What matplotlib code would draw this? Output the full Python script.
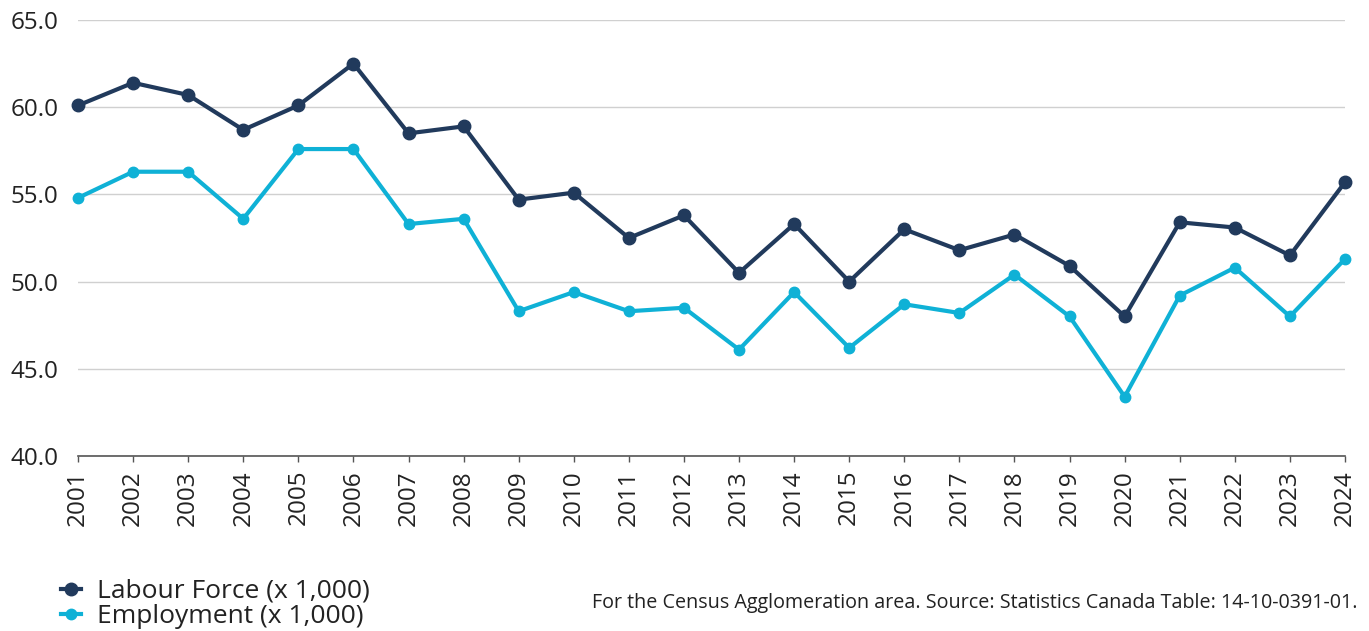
import matplotlib
matplotlib.use('Agg')
import matplotlib.pyplot as plt

YEARS = list(range(2001, 2025))
LABOUR_FORCE = [60.1, 61.4, 60.7, 58.7, 60.1, 62.5, 58.5, 58.9, 54.7, 55.1, 52.5, 53.8,
                50.5, 53.3, 50.0, 53.0, 51.8, 52.7, 50.9, 48.0, 53.4, 53.1, 51.5, 55.7]
EMPLOYMENT = [54.8, 56.3, 56.3, 53.6, 57.6, 57.6, 53.3, 53.6, 48.3, 49.4, 48.3, 48.5,
              46.1, 49.4, 46.2, 48.7, 48.2, 50.4, 48.0, 43.4, 49.2, 50.8, 48.0, 51.3]
Y_TICKS = [40.0, 45.0, 50.0, 55.0, 60.0, 65.0]

NAVY = '#213a5c'
CYAN = '#0fb1d6'
TEXT = '#222222'

plt.rcParams['font.family'] = ['Open Sans', 'DejaVu Sans']

fig = plt.figure(figsize=(13.69, 6.31), dpi=100)
ax = fig.add_axes([78 / 1369, 1 - 456 / 631, (1345 - 78) / 1369, (456 - 20) / 631])

ax.plot(YEARS, LABOUR_FORCE, color=NAVY, lw=3, marker='o', ms=9,
        label='Labour Force (x 1,000)', zorder=3, clip_on=False)
ax.plot(YEARS, EMPLOYMENT, color=CYAN, lw=3, marker='o', ms=7.5,
        label='Employment (x 1,000)', zorder=3, clip_on=False)

ax.set_xlim(2001, 2024)
ax.set_ylim(40, 65)
ax.set_yticks(Y_TICKS)
ax.set_yticklabels(['%.1f' % v for v in Y_TICKS], fontsize=17.5, color=TEXT)
ax.set_xticks(YEARS)
ax.set_xticklabels([str(y) for y in YEARS], rotation=90, fontsize=17.5, color=TEXT)
ax.tick_params(axis='y', length=0, pad=14)
ax.tick_params(axis='x', length=4, width=1, color='#555555', pad=6)

ax.yaxis.grid(True, color='#d0d0d0', lw=1)
ax.set_axisbelow(True)
for side in ('top', 'right', 'left'):
    ax.spines[side].set_visible(False)
ax.spines['bottom'].set_color('#555555')
ax.spines['bottom'].set_linewidth(1.2)

fig.legend(loc='lower left', bbox_to_anchor=(40 / 1369, -0.03), frameon=False,
           fontsize=19, handlelength=0.75, handletextpad=0.6, labelspacing=0.0,
           borderpad=0.3, labelcolor=TEXT)

fig.text(1357 / 1369, 1 - 603 / 631,
         'For the Census Agglomeration area. Source: Statistics Canada Table: 14-10-0391-01.',
         ha='right', va='center', fontsize=14.2, color=TEXT)

fig.savefig('out.png', dpi=100)
